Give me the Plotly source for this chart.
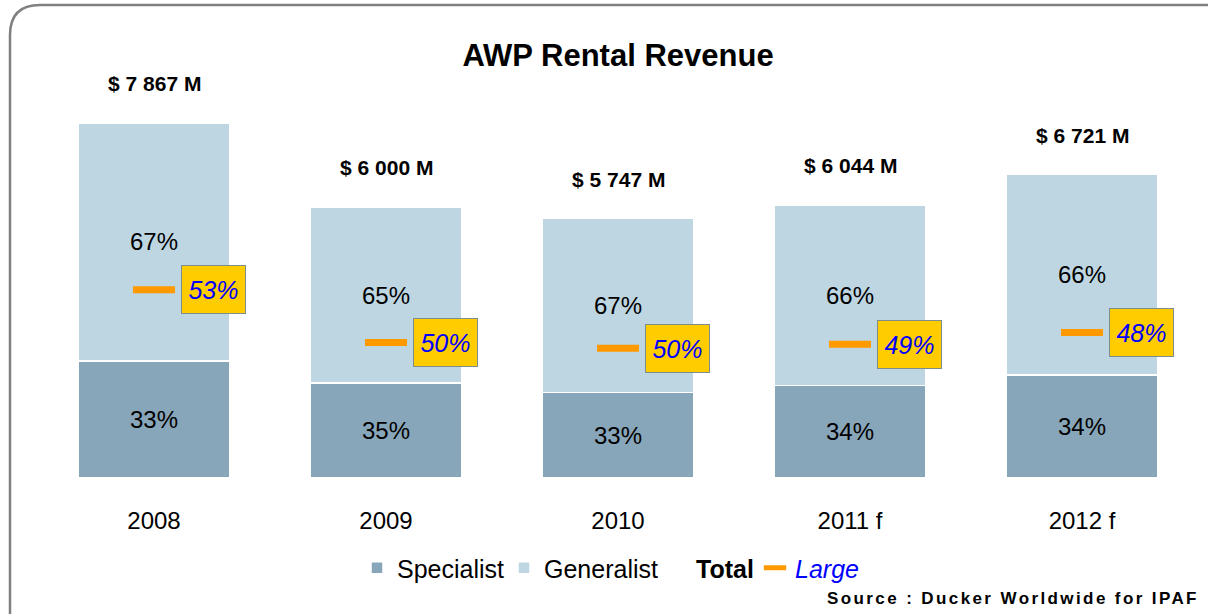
import plotly.graph_objects as go

# ---- data ----
years = ["2008", "2009", "2010", "2011 f", "2012 f"]
total = [7867, 6000, 5747, 6044, 6721]
specialist_pct = [33, 35, 33, 34, 34]
generalist_pct = [67, 65, 67, 66, 66]
large_pct = [53, 50, 50, 49, 48]
total_labels = ["$ 7 867 M", "$ 6 000 M", "$ 5 747 M", "$ 6 044 M", "$ 6 721 M"]

W, H = 1208, 614
ML, MR, MT, MB = 38, 10, 40, 136
PW, PH = W - ML - MR, H - MT - MB

def px(x):
    return (x - ML) / PW

def py(y):
    return (H - MB - y) / PH

xs = list(range(len(years)))
spec_vals = [t * p / 100 for t, p in zip(total, specialist_pct)]
gen_vals = [t * p / 100 for t, p in zip(total, generalist_pct)]
large_vals = [t * p / 100 for t, p in zip(total, large_pct)]

FONT = "Liberation Sans, Arial, sans-serif"
C_SPEC = "#88A6B9"
C_GEN = "#BED6E2"
C_ORANGE = "#FF9900"

fig = go.Figure()
fig.add_trace(go.Bar(
    x=xs, y=spec_vals, name="Specialist", legend="legend",
    marker=dict(color=C_SPEC, line=dict(color="white", width=1.5)),
    text=[f"{p}%" for p in specialist_pct], textposition="inside", insidetextanchor="middle",
    textfont=dict(size=24, color="black", family=FONT), width=0.655,
))
fig.add_trace(go.Bar(
    x=xs, y=gen_vals, name="Generalist", legend="legend2",
    marker=dict(color=C_GEN, line=dict(color="white", width=1.5)),
    text=[f"{p}%" for p in generalist_pct], textposition="inside", insidetextanchor="middle",
    textfont=dict(size=24, color="black", family=FONT), width=0.655,
))
fig.add_trace(go.Scatter(
    x=xs, y=large_vals, mode="markers", name="<b>Total</b>", legend="legend3",
    marker=dict(symbol="line-ew", size=1, color="rgba(0,0,0,0)", line=dict(width=0, color="rgba(0,0,0,0)")),
    hoverinfo="skip",
))
fig.add_trace(go.Scatter(
    x=xs, y=large_vals, mode="markers", name="<i><span style='color:#0000FF'>Large</span></i>",
    legend="legend4",
    marker=dict(symbol="line-ew", size=30, color=C_ORANGE, line=dict(width=7, color=C_ORANGE)),
))

annotations = []
for i in xs:
    annotations.append(dict(
        x=i, y=total[i], xref="x", yref="y", text=f"<b>{total_labels[i]}</b>",
        showarrow=False, yanchor="bottom", yshift=26,
        font=dict(size=21, color="black", family=FONT),
    ))
    annotations.append(dict(
        x=i + 0.118, y=large_vals[i], xref="x", yref="y", text=f"<i>{large_pct[i]}%</i>",
        showarrow=False, xanchor="left", yanchor="middle",
        font=dict(size=25, color="#0000FF", family=FONT),
        bgcolor="#FFCC00", bordercolor="#7F8C8D", borderwidth=1, borderpad=0,
        width=63, height=47,
    ))

annotations.append(dict(
    x=px(1201), y=py(598), xref="paper", yref="paper",
    text="<b><span style='letter-spacing:2.4px'>Source : Ducker Worldwide for IPAF</span></b>",
    showarrow=False, xanchor="right", yanchor="middle",
    font=dict(size=17, color="black", family=FONT),
))

frame = (f"M {px(10)},{py(620)} L {px(10)},{py(35)} Q {px(10)},{py(5)} {px(40)},{py(5)} "
         f"L {px(1212)},{py(5)}")

leg_common = dict(orientation="h", xanchor="left", yanchor="middle", y=py(568),
                  font=dict(size=25, color="black", family=FONT), itemwidth=30,
                  bgcolor="rgba(0,0,0,0)", borderwidth=0)

fig.update_layout(
    width=W, height=H,
    margin=dict(l=ML, r=MR, t=MT, b=MB),
    paper_bgcolor="white", plot_bgcolor="white",
    barmode="stack", bargap=0.345,
    title=dict(text="<b>AWP Rental Revenue</b>", x=(618) / W, xanchor="center",
               y=1 - 55 / H, yanchor="middle", font=dict(size=31, color="black", family=FONT)),
    xaxis=dict(range=[-0.5, 4.5], tickvals=xs, ticktext=years, ticks="outside", ticklen=21,
               tickcolor="rgba(0,0,0,0)", tickfont=dict(size=24, color="black", family=FONT),
               showgrid=False, zeroline=False, showline=False, fixedrange=True),
    yaxis=dict(range=[0, PH / 0.04513], visible=False, showgrid=False, zeroline=False),
    showlegend=True,
    legend=dict(x=px(357), **leg_common),
    legend2=dict(x=px(504), **leg_common),
    legend3=dict(x=px(656), **leg_common),
    legend4=dict(x=px(755), **leg_common),
    annotations=annotations,
    shapes=[dict(type="path", path=frame, xref="paper", yref="paper",
                 line=dict(color="#808080", width=2.5), layer="above")],
    font=dict(family=FONT),
)

fig.write_html("out.html", config={"displayModeBar": False},
               post_script="document.body.style.margin='0';document.body.style.padding='0';")
